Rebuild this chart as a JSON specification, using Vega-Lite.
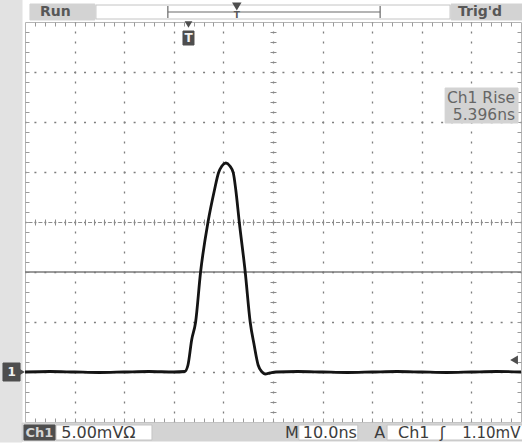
{
  "$schema": "https://vega.github.io/schema/vega-lite/v6.json",
  "width": 496,
  "height": 400,
  "autosize": {"type": "none"},
  "padding": {"left": 25, "top": 22, "right": 1, "bottom": 25},
  "background": "#ffffff",
  "config": {"view": {"stroke": "#b4b4b4", "strokeWidth": 1}, "font": "DejaVu Sans"},
  "datasets": {
    "trace": [
      {"t": 0, "v": 0}, {"t": 5, "v": 0.05}, {"t": 10, "v": 0.0}, {"t": 15, "v": -0.05}, {"t": 20, "v": 0.0}, {"t": 25, "v": 0.05}, {"t": 30, "v": 0.0},
      {"t": 32.2, "v": 0.05}, {"t": 32.86, "v": 0.7}, {"t": 33.6, "v": 3.2}, {"t": 34.4, "v": 5.0}, {"t": 35.4, "v": 10.0},
      {"t": 36.9, "v": 15.0}, {"t": 38.2, "v": 18.2}, {"t": 39.0, "v": 19.9}, {"t": 39.7, "v": 20.6}, {"t": 40.5, "v": 20.9},
      {"t": 41.3, "v": 20.6}, {"t": 42.0, "v": 19.9}, {"t": 42.5, "v": 18.2}, {"t": 43.2, "v": 15.0}, {"t": 44.4, "v": 10.0},
      {"t": 45.4, "v": 5.0}, {"t": 46.2, "v": 2.7}, {"t": 47.0, "v": 0.7}, {"t": 47.8, "v": 0.0}, {"t": 48.4, "v": -0.2},
      {"t": 49.4, "v": -0.1}, {"t": 50.6, "v": 0.0}, {"t": 55, "v": 0.05}, {"t": 60, "v": 0.0}, {"t": 65, "v": -0.05},
      {"t": 70, "v": 0.0}, {"t": 75, "v": 0.05}, {"t": 80, "v": 0.0}, {"t": 85, "v": -0.05}, {"t": 90, "v": 0.0}, {"t": 95, "v": 0.05}, {"t": 100, "v": 0.0}
    ],
    "boxes": [
      {"kind": "strip", "t": -5.1, "t2": -0.6, "v": 37.3, "v2": -7.0},
      {"kind": "panel", "t": 1.0, "t2": 14.1, "v": 36.8, "v2": 35.2},
      {"kind": "panel", "t": 85.9, "t2": 100.3, "v": 36.8, "v2": 35.2},
      {"kind": "panel", "t": -0.6, "t2": 100.3, "v": -5.1, "v2": -6.9},
      {"kind": "panel", "t": 84.7, "t2": 99.4, "v": 28.4, "v2": 24.9},
      {"kind": "field", "t": 14.3, "t2": 85.7, "v": 36.7, "v2": 35.3},
      {"kind": "field", "t": 6.25, "t2": 25.6, "v": -5.3, "v2": -6.8},
      {"kind": "field", "t": 55.2, "t2": 67.1, "v": -5.3, "v2": -6.8},
      {"kind": "field", "t": 73.0, "t2": 100.3, "v": -5.3, "v2": -6.8},
      {"kind": "badge", "t": -0.2, "t2": 6.05, "v": -5.3, "v2": -6.8},
      {"kind": "badge", "t": 31.85, "t2": 34.07, "v": 34.1, "v2": 32.7},
      {"kind": "badge", "t": -4.44, "t2": -1.0, "v": 0.9, "v2": -0.9}
    ]
  },
  "resolve": {"axis": {"x": "independent", "y": "independent"}},
  "encoding": {
    "x": {"field": "t", "type": "quantitative", "scale": {"domain": [0, 100], "nice": false, "zero": false}, "axis": null},
    "y": {"field": "v", "type": "quantitative", "scale": {"domain": [-5, 35], "nice": false, "zero": false}, "axis": null}
  },
  "layer": [
    {
      "data": {"name": "trace"},
      "mark": {"type": "point", "opacity": 0},
      "encoding": {
        "x": {"field": "t", "type": "quantitative", "scale": {"domain": [0, 100], "nice": false, "zero": false},
          "axis": {"orient": "bottom", "values": [10, 20, 30, 40, 50, 60, 70, 80, 90], "grid": true, "gridColor": "#7e7e7e", "gridDash": [2, 8], "gridDashOffset": 1, "gridWidth": 1.3, "ticks": false, "labels": false, "domain": false, "title": null}},
        "y": {"field": "v", "type": "quantitative", "scale": {"domain": [-5, 35], "nice": false, "zero": false},
          "axis": {"orient": "left", "values": [0, 5, 10, 15, 20, 25, 30], "grid": true, "gridColor": "#7e7e7e", "gridDash": [2, 7.92], "gridDashOffset": 1, "gridWidth": 1.3, "ticks": false, "labels": false, "domain": false, "title": null}}
      }
    },
    {
      "data": {"name": "trace"},
      "mark": {"type": "point", "opacity": 0},
      "encoding": {
        "x": {"field": "t", "type": "quantitative", "scale": {"domain": [0, 100], "nice": false, "zero": false},
          "axis": {"orient": "bottom", "offset": -4, "tickSize": 4, "tickColor": "#9a9a9a", "values": [2,4,6,8,10,12,14,16,18,20,22,24,26,28,30,32,34,36,38,40,42,44,46,48,50,52,54,56,58,60,62,64,66,68,70,72,74,76,78,80,82,84,86,88,90,92,94,96,98], "grid": false, "labels": false, "domain": false, "title": null}},
        "y": {"field": "v", "type": "quantitative", "scale": {"domain": [-5, 35], "nice": false, "zero": false},
          "axis": {"orient": "left", "offset": -4, "tickSize": 4, "tickColor": "#9a9a9a", "values": [-4,-3,-2,-1,0,1,2,3,4,5,6,7,8,9,10,11,12,13,14,15,16,17,18,19,20,21,22,23,24,25,26,27,28,29,30,31,32,33,34], "grid": false, "labels": false, "domain": false, "title": null}}
      }
    },
    {
      "data": {"name": "trace"},
      "mark": {"type": "point", "opacity": 0},
      "encoding": {
        "x": {"field": "t", "type": "quantitative", "scale": {"domain": [0, 100], "nice": false, "zero": false},
          "axis": {"orient": "top", "offset": -4, "tickSize": 4, "tickColor": "#9a9a9a", "values": [2,4,6,8,10,12,14,16,18,20,22,24,26,28,30,32,34,36,38,40,42,44,46,48,50,52,54,56,58,60,62,64,66,68,70,72,74,76,78,80,82,84,86,88,90,92,94,96,98], "grid": false, "labels": false, "domain": false, "title": null}},
        "y": {"field": "v", "type": "quantitative", "scale": {"domain": [-5, 35], "nice": false, "zero": false},
          "axis": {"orient": "right", "offset": -4, "tickSize": 4, "tickColor": "#9a9a9a", "values": [-4,-3,-2,-1,0,1,2,3,4,5,6,7,8,9,10,11,12,13,14,15,16,17,18,19,20,21,22,23,24,25,26,27,28,29,30,31,32,33,34], "grid": false, "labels": false, "domain": false, "title": null}}
      }
    },
    {
      "data": {"name": "trace"},
      "mark": {"type": "point", "opacity": 0},
      "encoding": {
        "x": {"field": "t", "type": "quantitative", "scale": {"domain": [0, 100], "nice": false, "zero": false},
          "axis": {"orient": "bottom", "offset": -200, "tickSize": 3, "tickColor": "#8c8c8c", "values": [2,4,6,8,10,12,14,16,18,20,22,24,26,28,30,32,34,36,38,40,42,44,46,48,50,52,54,56,58,60,62,64,66,68,70,72,74,76,78,80,82,84,86,88,90,92,94,96,98], "grid": false, "labels": false, "domain": true, "domainColor": "#8c8c8c", "domainDash": [4, 5.92], "domainDashOffset": -3, "title": null}},
        "y": {"field": "v", "type": "quantitative", "scale": {"domain": [-5, 35], "nice": false, "zero": false},
          "axis": {"orient": "left", "offset": -248, "tickSize": 3, "tickColor": "#8c8c8c", "values": [-4,-3,-2,-1,0,1,2,3,4,5,6,7,8,9,10,11,12,13,14,15,16,17,18,19,20,21,22,23,24,25,26,27,28,29,30,31,32,33,34], "grid": false, "labels": false, "domain": false, "title": null}}
      }
    },
    {
      "data": {"name": "trace"},
      "mark": {"type": "point", "opacity": 0},
      "encoding": {
        "x": {"field": "t", "type": "quantitative", "scale": {"domain": [0, 100], "nice": false, "zero": false},
          "axis": {"orient": "top", "offset": -200, "tickSize": 3, "tickColor": "#8c8c8c", "values": [2,4,6,8,10,12,14,16,18,20,22,24,26,28,30,32,34,36,38,40,42,44,46,48,50,52,54,56,58,60,62,64,66,68,70,72,74,76,78,80,82,84,86,88,90,92,94,96,98], "grid": false, "labels": false, "domain": false, "title": null}},
        "y": {"field": "v", "type": "quantitative", "scale": {"domain": [-5, 35], "nice": false, "zero": false},
          "axis": {"orient": "right", "offset": -248, "tickSize": 3, "tickColor": "#8c8c8c", "values": [-4,-3,-2,-1,0,1,2,3,4,5,6,7,8,9,10,11,12,13,14,15,16,17,18,19,20,21,22,23,24,25,26,27,28,29,30,31,32,33,34], "grid": false, "labels": false, "domain": false, "title": null}}
      }
    },
    {
      "data": {"name": "boxes"},
      "mark": {"type": "rect", "strokeWidth": 1},
      "encoding": {
        "x2": {"field": "t2"},
        "y2": {"field": "v2"},
        "fill": {"field": "kind", "type": "nominal", "scale": {"domain": ["strip", "panel", "field", "badge"], "range": ["#e2e2e2", "#d3d3d3", "#ffffff", "#4e4e4e"]}, "legend": null},
        "stroke": {"field": "kind", "type": "nominal", "scale": {"domain": ["strip", "panel", "field", "badge"], "range": ["#e2e2e2", "#d3d3d3", "#c4c4c4", "#4e4e4e"]}, "legend": null}
      }
    },
    {
      "data": {"values": [{"t": 0, "t2": 100, "v": 10, "v2": 10}]},
      "mark": {"type": "rule", "color": "#7a7a7a", "strokeWidth": 1.4},
      "encoding": {"x2": {"field": "t2"}, "y2": {"field": "v2"}}
    },
    {
      "data": {"values": [
        {"t": 28.8, "t2": 71.6, "v": 36.0, "v2": 36.0},
        {"t": 28.8, "t2": 28.8, "v": 36.6, "v2": 35.4},
        {"t": 71.6, "t2": 71.6, "v": 36.6, "v2": 35.4}
      ]},
      "mark": {"type": "rule", "color": "#6a6a6a", "strokeWidth": 1.2},
      "encoding": {"x2": {"field": "t2"}, "y2": {"field": "v2"}}
    },
    {
      "data": {"name": "trace"},
      "mark": {"type": "line", "color": "#141414", "strokeWidth": 2.8, "interpolate": "monotone"}
    },
    {
      "data": {"values": [
        {"kind": "down", "t": 32.96, "v": 34.75},
        {"kind": "right", "t": -0.75, "v": 0.0},
        {"kind": "left", "t": 98.6, "v": 1.2},
        {"kind": "small", "t": 42.7, "v": 36.55}
      ]},
      "mark": {"type": "point", "filled": true, "opacity": 1, "color": "#4e4e4e"},
      "encoding": {
        "shape": {"field": "kind", "type": "nominal", "scale": {"domain": ["down", "right", "left", "small"], "range": ["triangle-down", "triangle-right", "triangle-left", "triangle-down"]}, "legend": null},
        "size": {"field": "kind", "type": "nominal", "scale": {"domain": ["down", "right", "left", "small"], "range": [60, 90, 55, 18]}, "legend": null}
      }
    },
    {
      "data": {"values": [{"label": "Run", "t": 3.02, "v": 36.0}, {"label": "Trig'd", "t": 87.3, "v": 36.0}]},
      "mark": {"type": "text", "align": "left", "baseline": "middle", "fontSize": 14, "fontWeight": "bold", "color": "#575757"},
      "encoding": {"text": {"field": "label"}}
    },
    {
      "data": {"values": [{"label": "T", "t": 42.7, "v": 35.75}]},
      "mark": {"type": "text", "align": "center", "baseline": "middle", "fontSize": 9, "fontWeight": "bold", "color": "#5a5a5a"},
      "encoding": {"text": {"field": "label"}}
    },
    {
      "data": {"values": [
        {"label": "5.00mVΩ", "t": 7.3, "v": -6.1},
        {"label": "M", "t": 52.4, "v": -6.1},
        {"label": "10.0ns", "t": 56.0, "v": -6.1},
        {"label": "A", "t": 70.4, "v": -6.1},
        {"label": "Ch1", "t": 75.2, "v": -6.1},
        {"label": "ʃ", "t": 83.6, "v": -6.1}
      ]},
      "mark": {"type": "text", "align": "left", "baseline": "middle", "fontSize": 16, "color": "#3c3c3c"},
      "encoding": {"text": {"field": "label"}}
    },
    {
      "data": {"values": [{"label": "1.10mV", "t": 99.9, "v": -6.1}]},
      "mark": {"type": "text", "align": "right", "baseline": "middle", "fontSize": 15, "color": "#3c3c3c"},
      "encoding": {"text": {"field": "label"}}
    },
    {
      "data": {"values": [{"label": "Ch1", "t": 2.9, "v": -6.05}]},
      "mark": {"type": "text", "align": "center", "baseline": "middle", "fontSize": 13, "fontWeight": "bold", "color": "#d4d4d4"},
      "encoding": {"text": {"field": "label"}}
    },
    {
      "data": {"values": [{"label": "T", "t": 32.96, "v": 33.4}, {"label": "1", "t": -2.7, "v": 0.0}]},
      "mark": {"type": "text", "align": "center", "baseline": "middle", "fontSize": 12, "fontWeight": "bold", "color": "#f2f2f2"},
      "encoding": {"text": {"field": "label"}}
    },
    {
      "data": {"values": [{"label": "Ch1 Rise", "t": 98.8, "v": 27.4}, {"label": "5.396ns", "t": 98.8, "v": 25.7}]},
      "mark": {"type": "text", "align": "right", "baseline": "middle", "fontSize": 15.5, "color": "#666666"},
      "encoding": {"text": {"field": "label"}}
    }
  ]
}
